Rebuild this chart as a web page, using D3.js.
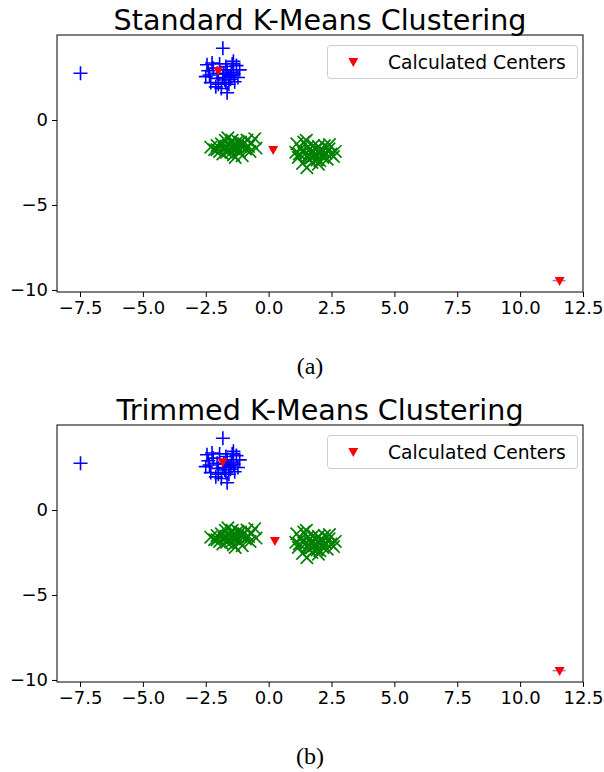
<!DOCTYPE html>
<html>
<head>
<meta charset="utf-8">
<script src="https://cdn.jsdelivr.net/npm/d3@7"></script>
<style>
  html, body { margin: 0; padding: 0; background: #fff; }
  svg text { font-family: "DejaVu Sans", sans-serif; fill: #000; }
</style>
</head>
<body>
<svg id="fig" width="604" height="772"></svg>
<script>
// Cluster 1 ('+' markers)
const bluePoints = [
  [-7.48, 2.75], [-1.82, 4.22],
  [-2.45, 3.25], [-2.40, 2.90], [-2.50, 2.55], [-2.30, 2.20], [-2.10, 1.95],
  [-2.00, 2.45], [-2.20, 3.05], [-1.95, 3.30], [-1.70, 3.15], [-1.45, 3.30],
  [-1.28, 3.20], [-1.15, 2.95], [-1.40, 2.70], [-1.58, 2.55], [-1.78, 2.70],
  [-1.52, 2.40], [-1.35, 2.25], [-1.70, 2.20], [-1.88, 1.85], [-1.65, 1.60],
  [-1.48, 2.80], [-1.65, 2.95], [-2.05, 2.75], [-2.35, 2.65], [-1.82, 2.50],
  [-1.58, 2.10], [-1.22, 2.50], [-2.00, 2.10], [-1.40, 3.45], [-2.25, 3.35],
  [-1.75, 2.35], [-1.52, 2.60]
];
// Clusters 2 and 3 ('x' markers)
const greenPoints = [
  [-2.30, -1.60], [-2.15, -1.75], [-2.05, -1.50], [-1.95, -1.85], [-1.88, -1.40],
  [-1.78, -1.65], [-1.72, -1.20], [-1.67, -1.90], [-1.60, -1.50], [-1.55, -1.75],
  [-1.50, -1.35], [-1.45, -1.60], [-1.40, -2.05], [-1.33, -1.45], [-1.28, -1.70],
  [-1.22, -1.25], [-1.17, -1.85], [-1.10, -1.55], [-1.05, -2.10], [-0.98, -1.40],
  [-0.92, -1.70], [-0.86, -1.18], [-0.80, -1.55], [-0.74, -1.85], [-0.68, -1.35],
  [-0.55, -1.10], [-0.50, -1.65], [-1.62, -1.05], [-1.82, -2.00], [-1.33, -2.20],
  [-1.50, -1.90], [-1.70, -1.55], [-1.25, -1.55], [-2.05, -1.75], [-1.45, -1.20],
  [-1.12, -1.30],
  [1.08, -1.90], [1.12, -1.40], [1.18, -2.20], [1.28, -1.70], [1.35, -2.55],
  [1.40, -1.30], [1.45, -2.00], [1.52, -2.80], [1.55, -1.60], [1.62, -2.30],
  [1.66, -1.90], [1.72, -2.50], [1.78, -1.50], [1.82, -2.10], [1.88, -1.75],
  [1.93, -2.35], [1.98, -1.55], [2.04, -2.00], [2.10, -1.80], [2.16, -2.20],
  [2.22, -1.50], [2.28, -1.95], [2.33, -2.30], [2.40, -1.70], [2.48, -2.00],
  [2.58, -2.15], [2.65, -1.85], [1.22, -2.00], [1.60, -2.05], [1.98, -2.60],
  [1.50, -1.20], [2.42, -1.45], [1.72, -2.20], [2.04, -2.40], [1.88, -2.00]
];
// Isolated outlier ('_' marker)
const outlierPoints = [[11.55, -9.45]];

// Centers found by each method
const centersStandard = [[-2.00, 2.85], [0.18, -1.80], [11.57, -9.50]];
const centersTrimmed  = [[-1.83, 2.78], [0.25, -1.86], [11.57, -9.50]];

const titles = ["Standard K-Means Clustering", "Trimmed K-Means Clustering"];
const captions = ["(a)", "(b)"];
const legendLabel = "Calculated Centers";
const xTicks = [-7.5, -5.0, -2.5, 0.0, 2.5, 5.0, 7.5, 10.0, 12.5];
const yTicks = [0, -5, -10];

const svg = d3.select("#fig");

function drawPanel(top, title, caption, centers) {
  const plot = { left: 57, right: 583, top: top + 35, bottom: top + 292 };
  const x = d3.scaleLinear().domain([-8.415, 12.5]).range([plot.left, plot.right]);
  const y = d3.scaleLinear().domain([-10.12, 5.0]).range([plot.bottom, plot.top]);
  const g = svg.append("g");

  // title
  g.append("text")
    .attr("x", (plot.left + plot.right) / 2)
    .attr("y", top + 30)
    .attr("text-anchor", "middle")
    .style("font-size", "28.6px")
    .text(title);

  // axes
  const xAxis = d3.axisBottom(x).tickValues(xTicks)
    .tickFormat(d => d3.format(".1f")(d).replace("-", "\u2212"))
    .tickSizeOuter(0).tickSize(5).tickPadding(4);
  const yAxis = d3.axisLeft(y).tickValues(yTicks)
    .tickFormat(d => String(d).replace("-", "\u2212"))
    .tickSizeOuter(0).tickSize(5).tickPadding(4);
  const gx = g.append("g").attr("transform", `translate(0,${plot.bottom})`).call(xAxis);
  const gy = g.append("g").attr("transform", `translate(${plot.left},0)`).call(yAxis);
  [gx, gy].forEach(a => {
    a.select(".domain").remove();
    a.selectAll(".tick line").attr("stroke", "#000").attr("stroke-width", 1);
    a.selectAll(".tick text")
      .style("font-family", "'DejaVu Sans', sans-serif")
      .style("font-size", "18px").attr("fill", "#000");
  });

  // frame
  g.append("rect")
    .attr("x", plot.left).attr("y", plot.top)
    .attr("width", plot.right - plot.left).attr("height", plot.bottom - plot.top)
    .attr("fill", "none").attr("stroke", "#000").attr("stroke-width", 1);

  const marks = g.append("g");
  const h = 7;
  // '+' markers
  marks.selectAll(".plus").data(bluePoints).join("path")
    .attr("d", d => {
      const cx = x(d[0]), cy = y(d[1]);
      return `M${cx - h},${cy}H${cx + h}M${cx},${cy - h}V${cy + h}`;
    })
    .attr("fill", "none").attr("stroke", "#0000ff").attr("stroke-width", 1.6);

  // 'x' markers
  const k = 6.2;
  marks.selectAll(".cross").data(greenPoints).join("path")
    .attr("d", d => {
      const cx = x(d[0]), cy = y(d[1]);
      return `M${cx - k},${cy - k}L${cx + k},${cy + k}M${cx - k},${cy + k}L${cx + k},${cy - k}`;
    })
    .attr("fill", "none").attr("stroke", "#008000").attr("stroke-width", 1.7);

  // '_' marker for the outlier
  marks.selectAll(".dash").data(outlierPoints).join("path")
    .attr("d", d => {
      const cx = x(d[0]), cy = y(d[1]);
      return `M${cx - 6.5},${cy}H${cx + 6.5}`;
    })
    .attr("fill", "none").attr("stroke", "#9f7fd6").attr("stroke-width", 1.6);

  // centers: downward triangles
  const tri = (cx, cy) => `M${cx - 5},${cy - 4.5}L${cx + 5},${cy - 4.5}L${cx},${cy + 4.5}Z`;
  marks.selectAll(".center").data(centers).join("path")
    .attr("d", d => tri(x(d[0]), y(d[1])))
    .attr("fill", "#ff0000");

  // legend
  const lg = g.append("g");
  lg.append("rect")
    .attr("x", 327.5).attr("y", top + 45.5).attr("width", 250).attr("height", 33)
    .attr("rx", 3).attr("fill", "#fff").attr("fill-opacity", 0.8)
    .attr("stroke", "#cccccc").attr("stroke-width", 1);
  lg.append("path").attr("d", tri(353.3, top + 62.5)).attr("fill", "#ff0000");
  lg.append("text")
    .attr("x", 388).attr("y", top + 68.5)
    .style("font-size", "18.7px")
    .text(legendLabel);

  // caption
  g.append("text")
    .attr("x", 310).attr("y", top + 374)
    .attr("text-anchor", "middle")
    .style("font-family", "'Liberation Serif', 'DejaVu Serif', serif")
    .style("font-size", "24px")
    .text(caption);
}

drawPanel(0, titles[0], captions[0], centersStandard);
drawPanel(390, titles[1], captions[1], centersTrimmed);
</script>
</body>
</html>
